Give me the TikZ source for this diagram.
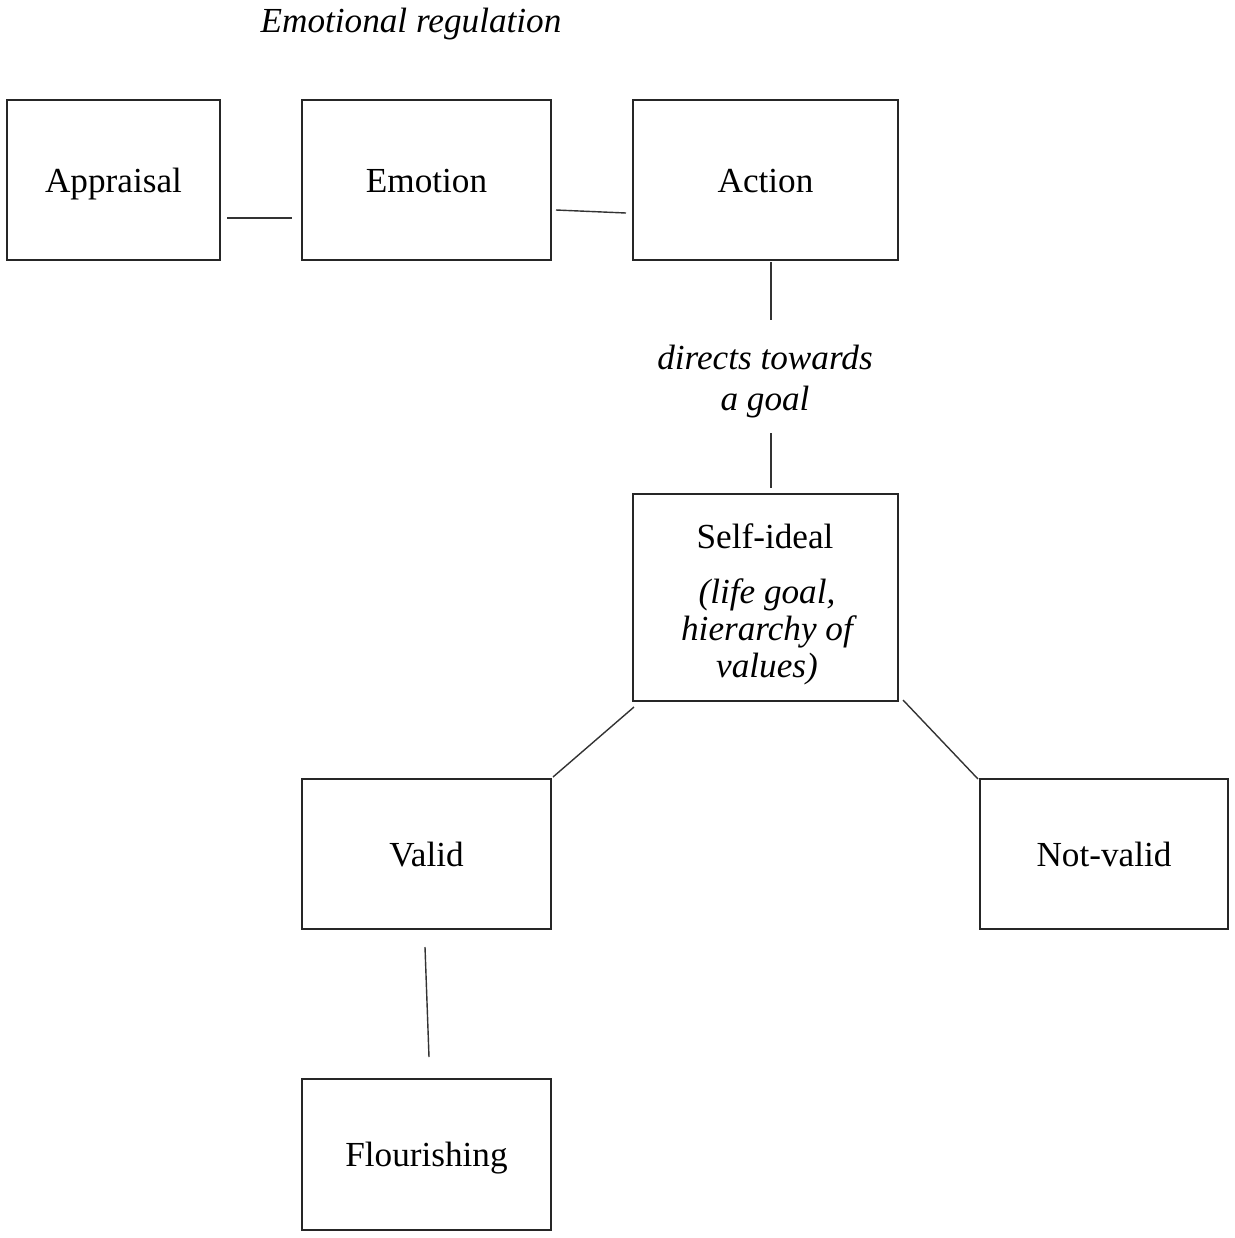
\documentclass[tikz,border=0pt]{standalone}
\usepackage{fontspec}
\setmainfont{Liberation Serif}
\begin{document}
\begin{tikzpicture}[x=0.5pt,y=-0.5pt,
  box/.style={draw=black!85,line width=0.75pt,inner sep=0pt,align=center,text height=12pt,text depth=0pt,font=\fontsize{17.6}{21}\selectfont},
  lbl/.style={inner sep=0pt,align=center,font=\fontsize{17.6}{20.5}\selectfont\itshape},
  conn/.style={draw=black!80,line width=0.7pt}]
\useasboundingbox (0,0) rectangle (1235,1238);
\node[lbl] (title) at (411,24) {Emotional regulation};
\node[box,minimum width=106.5pt,minimum height=80pt] (appr) at (113.5,180) {Appraisal};
\node[box,minimum width=124.5pt,minimum height=80pt] (emo) at (426.5,180) {Emotion};
\node[box,minimum width=132.5pt,minimum height=80pt] (act) at (765.5,180) {Action};
\node[lbl] (dir) at (765,382) {directs towards\\a goal};
\node[box,minimum width=132.5pt,minimum height=103.5pt] (self) at (765.5,597.5) {};
\node[inner sep=0pt,font=\fontsize{17.6}{21}\selectfont] (selft) at (765,536) {Self-ideal};
\node[lbl,font=\fontsize{17.6}{18.6}\selectfont\itshape] (selfs) at (767,632) {(life goal,\\hierarchy of\\values)};
\node[box,minimum width=124.5pt,minimum height=75pt] (valid) at (426.5,854) {Valid};
\node[box,minimum width=124pt,minimum height=75pt] (notv) at (1104,854) {Not-valid};
\node[box,minimum width=124.5pt,minimum height=75.5pt] (flour) at (426.5,1154.5) {Flourishing};
\coordinate (a1) at (227,218); \coordinate (a2) at (292,218);
\coordinate (b1) at (556,210); \coordinate (b2) at (626,213);
\coordinate (c1) at (771,262); \coordinate (c2) at (771,320);
\coordinate (c3) at (771,433); \coordinate (c4) at (771,488);
\coordinate (d1) at (634,707); \coordinate (d2) at (553,777);
\coordinate (e1) at (903,700); \coordinate (e2) at (978,779);
\coordinate (f1) at (425,947); \coordinate (f2) at (429,1057);
\draw[conn] (a1) -- (a2);
\draw[conn] (b1) -- (b2);
\draw[conn] (c1) -- (c2);
\draw[conn] (c3) -- (c4);
\draw[conn] (d1) -- (d2);
\draw[conn] (e1) -- (e2);
\draw[conn] (f1) -- (f2);
\end{tikzpicture}
\end{document}
